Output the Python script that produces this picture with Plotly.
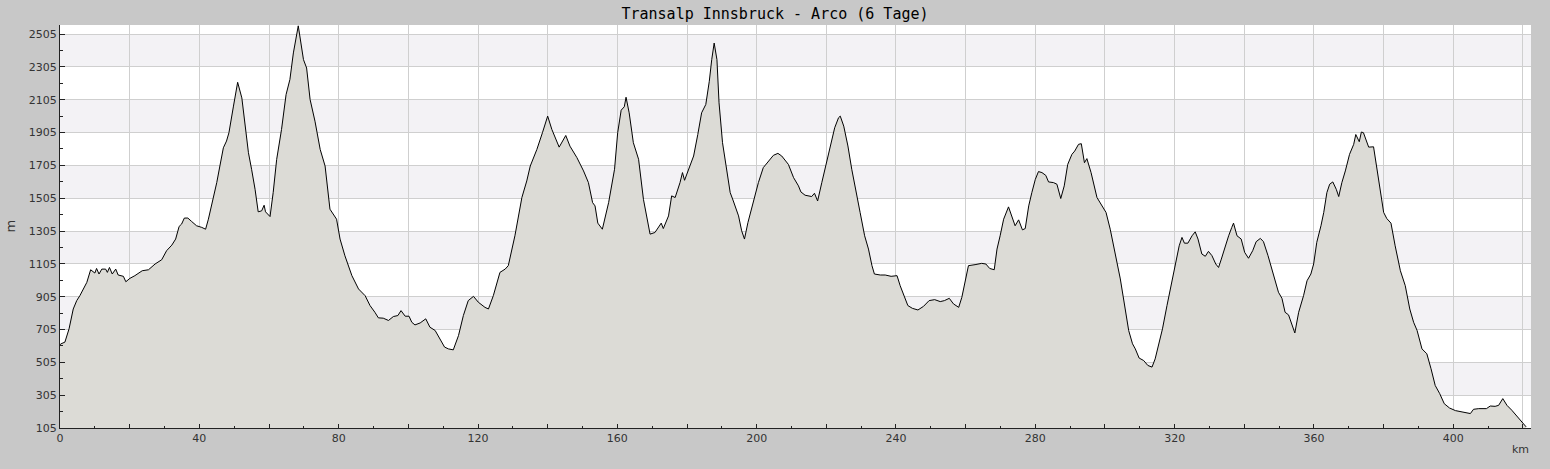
import plotly.graph_objects as go

# Hoehenprofil Transalp Innsbruck - Arco
title = "Transalp Innsbruck - Arco (6 Tage)"

distance_km = [
    0.0, 0.3, 1.4, 2.6, 3.8, 4.8, 5.7, 6.7, 7.7, 8.8, 10.0, 10.5, 11.2, 12.0, 13.1, 13.6, 14.2, 15.0,
    16.0, 16.7, 17.5, 18.2, 18.9, 20.1, 21.5, 23.6, 25.4, 27.3, 29.2, 30.6, 32.1, 33.2, 34.2, 34.9,
    35.7, 36.7, 37.8, 39.2, 40.7, 41.8, 42.6, 43.7, 45.0, 45.9, 46.9, 47.8, 48.5, 49.8, 51.0, 52.2,
    53.1, 54.1, 55.0, 56.0, 56.9, 57.9, 58.6, 59.0, 60.3, 61.2, 62.2, 63.6, 64.9, 66.0, 67.0, 68.4,
    69.9, 70.8, 71.8, 73.2, 74.7, 76.1, 77.5, 79.4, 80.4, 81.8, 83.8, 85.7, 87.6, 89.0, 90.4, 91.4,
    92.8, 94.3, 95.7, 97.0, 97.9, 99.1, 100.2, 101.0, 101.9, 103.4, 105.0, 106.2, 107.7, 109.1, 110.4,
    111.5, 112.9, 114.4, 115.8, 117.2, 118.7, 120.1, 122.0, 123.0, 124.4, 126.3, 127.8, 128.7, 130.6,
    132.6, 134.0, 135.0, 136.9, 138.5, 140.0, 141.2, 143.3, 145.2, 146.4, 148.4, 150.3, 151.7, 152.9,
    153.6, 154.4, 155.7, 157.5, 159.2, 160.1, 161.1, 162.0, 162.5, 163.4, 164.6, 166.1, 167.5, 168.5,
    169.4, 170.8, 172.6, 173.2, 174.7, 175.6, 176.6, 178.0, 178.7, 179.3, 180.4, 181.9, 183.1, 184.2,
    185.4, 186.4, 187.1, 187.8, 188.6, 189.2, 190.2, 191.4, 192.4, 193.3, 194.8, 195.7, 196.5, 197.5,
    199.1, 200.5, 201.9, 203.4, 204.8, 206.1, 207.2, 209.1, 210.6, 212.0, 212.7, 213.9, 215.8, 216.6,
    217.5, 218.7, 220.2, 221.1, 222.4, 223.5, 224.0, 225.0, 226.2, 227.3, 228.5, 229.7, 231.0, 232.1,
    233.1, 233.8, 235.5, 236.9, 238.6, 240.3, 241.2, 242.4, 243.4, 244.7, 246.3, 247.9, 249.5, 251.1,
    252.7, 253.9, 255.3, 256.5, 258.0, 258.9, 259.9, 260.8, 262.7, 264.6, 265.8, 266.9, 268.2, 269.0,
    269.9, 270.9, 272.3, 273.3, 274.2, 275.2, 276.3, 277.1, 278.1, 279.0, 280.0, 280.9, 281.9, 283.0,
    283.8, 285.2, 286.2, 287.3, 288.3, 289.3, 290.5, 291.3, 292.4, 293.2, 294.1, 294.8, 296.0, 297.7,
    299.1, 300.3, 301.5, 302.9, 304.4, 305.8, 306.8, 307.9, 308.7, 309.8, 311.1, 312.3, 313.5, 314.4,
    315.4, 316.5, 317.8, 319.2, 320.4, 321.3, 322.1, 322.8, 323.8, 325.0, 325.9, 326.7, 327.8, 328.8,
    329.7, 330.7, 331.8, 332.6, 333.4, 334.5, 335.5, 336.4, 336.9, 337.9, 339.1, 340.1, 341.2, 342.4,
    343.4, 344.6, 345.5, 346.8, 348.4, 349.8, 350.8, 351.7, 352.7, 353.6, 354.5, 355.6, 357.0, 358.0,
    359.1, 359.9, 360.8, 362.0, 362.8, 363.7, 364.5, 365.4, 366.4, 367.1, 368.0, 369.0, 370.2, 371.4,
    372.0, 373.0, 373.6, 374.2, 375.0, 375.7, 377.1, 377.9, 378.8, 380.0, 380.9, 382.1, 383.3, 384.8,
    386.2, 387.5, 388.6, 389.6, 391.0, 392.4, 393.6, 394.8, 396.1, 397.4, 398.9, 400.6, 402.5, 403.9,
    404.9, 405.8, 407.3, 409.5, 410.6, 412.0, 413.0, 414.2, 415.4, 416.8, 418.3, 419.7, 420.9,
]

elevation_m = [
    612, 618, 628, 709, 830, 881, 911, 952, 992, 1069, 1049, 1077, 1043, 1073, 1073, 1053, 1083, 1043,
    1073, 1037, 1033, 1029, 996, 1017, 1033, 1063, 1069, 1104, 1130, 1185, 1219, 1256, 1333, 1347,
    1384, 1384, 1363, 1337, 1327, 1316, 1377, 1478, 1600, 1701, 1812, 1853, 1904, 2066, 2211, 2116,
    1944, 1782, 1681, 1559, 1422, 1428, 1462, 1422, 1393, 1539, 1741, 1924, 2136, 2228, 2390, 2555,
    2349, 2298, 2106, 1974, 1802, 1701, 1438, 1377, 1256, 1154, 1033, 952, 911, 851, 810, 776,
    774, 760, 784, 790, 820, 786, 786, 749, 733, 745, 770, 719, 699, 648, 598,
    587, 581, 668, 790, 881, 907, 871, 840, 830, 911, 1053, 1073, 1094, 1276,
    1509, 1610, 1701, 1802, 1904, 2005, 1924, 1816, 1887, 1822, 1752, 1671, 1600, 1478,
    1458, 1353, 1316, 1478, 1681, 1904, 2041, 2062, 2120, 2025, 1843, 1742, 1498, 1377,
    1286, 1296, 1353, 1320, 1397, 1519, 1509, 1600, 1661, 1614, 1681, 1762, 1893, 2025,
    2076, 2217, 2349, 2450, 2349, 2086, 1843, 1661, 1539, 1488, 1397, 1306, 1256, 1357,
    1488, 1600, 1691, 1731, 1766, 1778, 1762, 1711, 1630, 1580, 1543, 1523, 1515, 1535,
    1488, 1600, 1742, 1823, 1934, 1995, 2005, 1944, 1823, 1681, 1559, 1418, 1276, 1195,
    1094, 1043, 1037, 1037, 1029, 1033, 972, 911, 851, 834, 824, 846, 881, 887,
    875, 881, 895, 861, 840, 901, 992, 1094, 1100, 1108, 1104, 1077, 1069, 1195,
    1276, 1377, 1452, 1387, 1337, 1373, 1312, 1320, 1458, 1539, 1620, 1667, 1661, 1644,
    1604, 1600, 1590, 1503, 1580, 1711, 1772, 1792, 1833, 1837, 1721, 1746, 1661, 1509,
    1458, 1418, 1316, 1175, 1013, 830, 699, 618, 587, 531, 516, 486, 476, 526,
    607, 709, 851, 992, 1134, 1215, 1266, 1231, 1231, 1276, 1300, 1256, 1165, 1151,
    1181, 1155, 1104, 1083, 1134, 1215, 1276, 1327, 1353, 1276, 1256, 1175, 1139, 1185,
    1240, 1260, 1240, 1155, 1033, 932, 895, 810, 794, 739, 684, 810, 911, 1002,
    1043, 1104, 1236, 1337, 1418, 1539, 1590, 1604, 1559, 1515, 1600, 1671, 1772, 1833,
    1893, 1849, 1908, 1904, 1863, 1816, 1818, 1701, 1580, 1418, 1381, 1353, 1215, 1063,
    972, 830, 749, 699, 587, 557, 466, 364, 314, 253, 227, 211, 203, 199,
    193, 219, 223, 223, 239, 237, 243, 284, 243, 213, 178, 142, 112,
]

# Achsenbeschriftung
x_tickvals = list(range(0, 421, 20))
x_ticktext = [str(v) if v % 40 == 0 else "" for v in x_tickvals]
y_tickvals = list(range(105, 2506, 200))
y_ticktext = [str(v) for v in y_tickvals]
# abwechselnd hinterlegte Hoehenbaender
band_bottoms = [305, 705, 1105, 1505, 1905, 2305]

tick_font = dict(family="DejaVu Sans", size=11, color="#333333")

fig = go.Figure()

fig.add_trace(go.Scatter(
    x=distance_km, y=elevation_m,
    mode="lines",
    line=dict(color="black", width=1),
    fill="tozeroy",
    fillcolor="#dcdbd6",
    showlegend=False,
    hoverinfo="x+y",
))

shapes = []
for b in band_bottoms:
    shapes.append(dict(type="rect", xref="paper", yref="y", x0=0, x1=1, y0=b, y1=b + 200,
                       fillcolor="#f3f2f5", line=dict(width=0), layer="below"))

fig.update_layout(
    width=1550, height=469,
    paper_bgcolor="#c8c8c8",
    plot_bgcolor="white",
    margin=dict(l=60, r=19, t=25, b=41),
    shapes=shapes,
    title=dict(text=title, x=0.5, xanchor="center", y=1 - 14 / 469, yanchor="middle",
               font=dict(family="DejaVu Sans Mono", size=15, color="black")),
    annotations=[
        dict(text="km", xref="paper", yref="paper", x=1, y=0, xanchor="right", yanchor="middle",
             yshift=-21, showarrow=False, font=tick_font),
        dict(text="m", xref="paper", yref="paper", x=0, y=0.5, xanchor="center", yanchor="middle",
             xshift=-50, textangle=-90, showarrow=False,
             font=dict(family="DejaVu Sans", size=13, color="#333333")),
    ],
)

fig.update_xaxes(
    range=[0, 422.3],
    tickvals=x_tickvals, ticktext=x_ticktext,
    ticks="inside", ticklen=4, tickcolor="#222222",
    showgrid=True, gridcolor="#cfcfcf", gridwidth=1,
    showline=True, linecolor="#222222", linewidth=1,
    zeroline=False, tickfont=tick_font,
    minor=dict(dtick=10, tick0=0, ticks="inside", ticklen=2, tickcolor="#222222", showgrid=False),
)
fig.update_yaxes(
    range=[105, 2560],
    tickvals=y_tickvals, ticktext=y_ticktext,
    ticks="inside", ticklen=5, tickcolor="#222222",
    showgrid=True, gridcolor="#cfcfcf", gridwidth=1,
    showline=True, linecolor="#222222", linewidth=1,
    zeroline=False, tickfont=tick_font,
    minor=dict(dtick=100, tick0=105, ticks="inside", ticklen=3, tickcolor="#222222", showgrid=False),
)

# Seitenrand entfernen, damit die Grafik das Fenster genau ausfuellt
fig.write_html("out.html", config={"displayModeBar": False},
               post_script="document.body.style.margin='0';")
